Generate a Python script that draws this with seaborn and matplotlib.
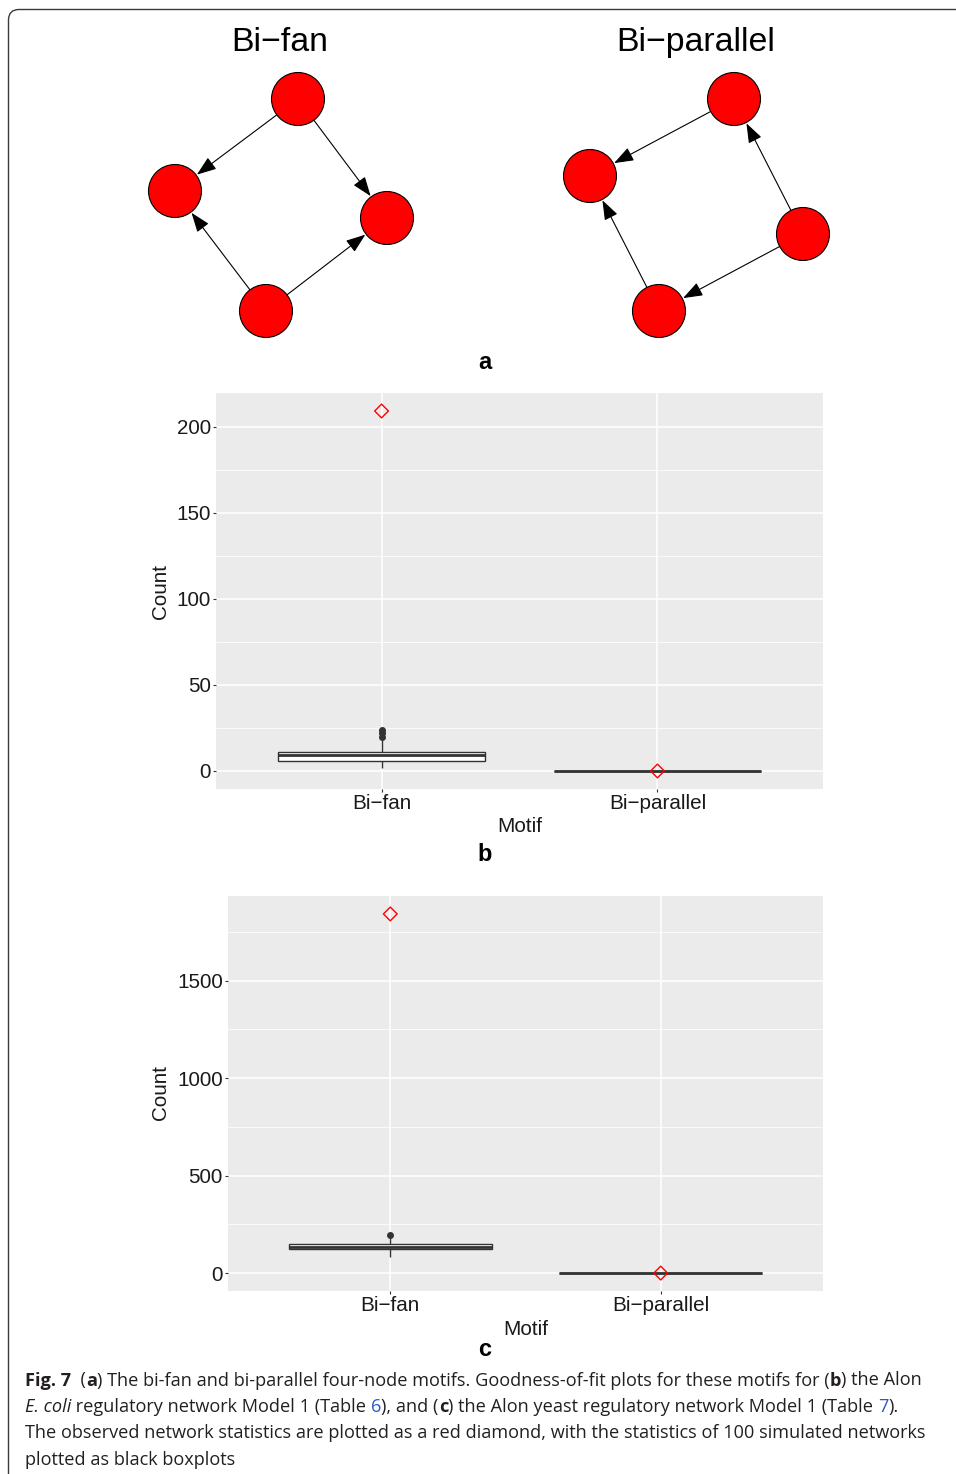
import matplotlib
matplotlib.use("Agg")
import matplotlib.pyplot as plt
from matplotlib.patches import Circle, FancyArrowPatch, ArrowStyle, PathPatch
from matplotlib.path import Path
import pandas as pd
import seaborn as sns

W, H, DPI = 956, 1474, 100

# ---- data -------------------------------------------------------------
motifs = ["Bi−fan", "Bi−parallel"]

# E. coli regulatory network, Model 1: simulated motif counts and observed counts
ecoli_bifan_sim = [2, 3, 4, 5, 6, 7, 7, 8, 9, 10, 10, 11, 11, 18, 20, 22, 24]
ecoli_bipar_sim = [0, 0, 0, 0, 0]
ecoli_observed = [209, 0]
ecoli_ticks = [0, 50, 100, 150, 200]
ecoli_minor = [25, 75, 125, 175]

# Yeast regulatory network, Model 1
yeast_bifan_sim = [82, 95, 110, 122, 128, 132, 136, 140, 145, 150, 165, 180, 196]
yeast_bipar_sim = [0, 0, 0, 0, 0]
yeast_observed = [1843, 0]
yeast_ticks = [0, 500, 1000, 1500]
yeast_minor = [250, 750, 1250, 1750]

# motif diagrams: node layout (pixel space) and directed edges
bifan_nodes = {"t": (298, 99), "l": (175, 191), "r": (387, 218), "b": (266, 311)}
bifan_edges = [("t", "l"), ("t", "r"), ("b", "l"), ("b", "r")]
bipar_nodes = {"t": (734, 99), "l": (590, 176), "r": (803, 234), "b": (659, 311)}
bipar_edges = [("r", "t"), ("r", "b"), ("t", "l"), ("b", "l")]

# ---- style ------------------------------------------------------------
sns.set_theme(style="white")
plt.rcParams["font.family"] = ["Liberation Sans", "DejaVu Sans"]
TXT = "#1A1A1A"
FS = 14.9

fig = plt.figure(figsize=(W / DPI, H / DPI), dpi=DPI)

# full-figure pixel-space layer for diagrams, labels, frame and caption
lay = fig.add_axes([0, 0, 1, 1])
lay.set_xlim(0, W)
lay.set_ylim(H, 0)
lay.axis("off")
lay.set_zorder(-1)


def px_axes(left, top, right, bottom):
    return fig.add_axes([left / W, 1 - bottom / H, (right - left) / W, (bottom - top) / H])


# ---- frame ------------------------------------------------------------
frame = Path([(8.5, H + 10), (8.5, 20), (8.5, 9.5), (19, 9.5), (W + 10, 9.5)],
             [Path.MOVETO, Path.LINETO, Path.CURVE3, Path.CURVE3, Path.LINETO])
lay.add_patch(PathPatch(frame, fill=False, edgecolor="#3a3a3a", lw=1.0))

# ---- panel a: motif diagrams ------------------------------------------
R = 26.5
for nodes, edges in [(bifan_nodes, bifan_edges), (bipar_nodes, bipar_edges)]:
    for a, b in edges:
        arr = FancyArrowPatch(nodes[a], nodes[b],
                              arrowstyle=ArrowStyle("-|>", head_length=12, head_width=4.4),
                              shrinkA=R * 0.72, shrinkB=R * 0.72 + 0.6,
                              color="black", lw=0.8, mutation_scale=1, zorder=2)
        lay.add_patch(arr)
    for (x, y) in nodes.values():
        lay.add_patch(Circle((x, y), R, facecolor="#FF0000", edgecolor="black", lw=0.8, zorder=3))

lay.text(280, 51, "Bi−fan", ha="center", va="baseline", fontsize=24.4, color="black")
lay.text(696, 51, "Bi−parallel", ha="center", va="baseline", fontsize=24.4, color="black")
lay.text(485, 369, "a", ha="center", va="baseline", fontsize=17, fontweight="bold", color="black")


# ---- panels b and c: goodness-of-fit boxplots -------------------------
def gof_panel(ax, sims, observed, ticks, minor):
    df = pd.DataFrame({
        "Motif": [m for m, s in zip(motifs, sims) for _ in s],
        "Count": [v for s in sims for v in s],
    })
    sns.boxplot(data=df, x="Motif", y="Count", order=motifs, ax=ax, width=0.75,
                color="white", linecolor="#333333", linewidth=1.0, showcaps=False,
                fliersize=4,
                medianprops=dict(color="#333333", linewidth=2.0),
                flierprops=dict(marker="o", markerfacecolor="#333333",
                                markeredgecolor="#333333"))
    obs = pd.DataFrame({"Motif": motifs, "Count": observed})
    n_before = len(ax.collections)
    sns.stripplot(data=obs, x="Motif", y="Count", order=motifs, ax=ax,
                  jitter=False, marker="D", size=7, color="red")
    for pts in ax.collections[n_before:]:
        pts.set_facecolor("none")
        pts.set_edgecolor("#FF0000")
        pts.set_linewidth(1.0)
        pts.set_zorder(5)

    allv = [v for s in sims for v in s] + list(observed)
    lo, hi = min(allv), max(allv)
    pad = 0.05 * (hi - lo)
    ax.set_ylim(lo - pad, hi + pad)
    ax.set_xlim(-0.6, len(motifs) - 0.4)
    ax.set_yticks(ticks)
    ax.set_yticks(minor, minor=True)
    ax.set_facecolor("#EBEBEB")
    ax.set_axisbelow(True)
    ax.grid(which="major", axis="both", color="white", lw=1.1)
    ax.grid(which="minor", axis="y", color="white", lw=0.55)
    for s in ax.spines.values():
        s.set_visible(False)
    ax.tick_params(which="major", length=2.2, width=0.8, color="#333333",
                   labelsize=FS, labelcolor=TXT, pad=1.5, left=True, bottom=True)
    ax.tick_params(which="minor", length=0)
    ax.set_xlabel("")
    ax.set_ylabel("")


ax_b = px_axes(216, 393, 823, 789)
gof_panel(ax_b, [ecoli_bifan_sim, ecoli_bipar_sim], ecoli_observed, ecoli_ticks, ecoli_minor)
lay.text(161, 591, "Count", rotation=90, ha="center", va="center", fontsize=FS, color=TXT)
lay.text(520, 832, "Motif", ha="center", va="baseline", fontsize=FS, color=TXT)
lay.text(485, 861, "b", ha="center", va="baseline", fontsize=17, fontweight="bold", color="black")

ax_c = px_axes(228, 896, 823, 1291)
gof_panel(ax_c, [yeast_bifan_sim, yeast_bipar_sim], yeast_observed, yeast_ticks, yeast_minor)
lay.text(161, 1093, "Count", rotation=90, ha="center", va="center", fontsize=FS, color=TXT)
lay.text(526, 1335, "Motif", ha="center", va="baseline", fontsize=FS, color=TXT)
lay.text(485, 1356, "c", ha="center", va="baseline", fontsize=17, fontweight="bold", color="black")

# ---- caption ----------------------------------------------------------
CAP_FONT = ["Liberation Sans Narrow", "Open Sans", "DejaVu Sans"]
CAP_COL = "#231F20"
LINK = "#2B58C8"
N, B, I, L = "n", "b", "i", "l"
caption = [
    [("Fig. 7", B), ("  (", N), ("a", B),
     (") The bi-fan and bi-parallel four-node motifs. Goodness-of-fit plots for these motifs for (", N),
     ("b", B), (") the Alon", N)],
    [("E. coli", I), (" regulatory network Model 1 (Table ", N), ("6", L), ("), and (", N),
     ("c", B), (") the Alon yeast regulatory network Model 1 (Table ", N), ("7", L), (").", N)],
    [("The observed network statistics are plotted as a red diamond, with the statistics of 100 simulated networks", N)],
    [("plotted as black boxplots", N)],
]
renderer = fig.canvas.get_renderer()


def run_kw(kind, size):
    return dict(fontsize=size, family=CAP_FONT,
                fontweight="bold" if kind == B else "normal",
                fontstyle="italic" if kind == I else "normal",
                color=LINK if kind == L else CAP_COL)


def run_width(text, kind, size):
    t1 = fig.text(0, 0, text + "|", **run_kw(kind, size))
    t2 = fig.text(0, 0, "|", **run_kw(kind, size))
    w = t1.get_window_extent(renderer).width - t2.get_window_extent(renderer).width
    t1.remove()
    t2.remove()
    return w


base = 10.0
w_base = sum(run_width(t, k, base) for t, k in caption[2])
cap_size = base * 902.0 / w_base

baselines = [1385.5, 1412, 1438.5, 1465]
for line, yb in zip(caption, baselines):
    x = 25.0
    for text, kind in line:
        lay.text(x, yb, text, ha="left", va="baseline", **run_kw(kind, cap_size))
        x += run_width(text, kind, cap_size)

fig.savefig("out.png", dpi=DPI)
